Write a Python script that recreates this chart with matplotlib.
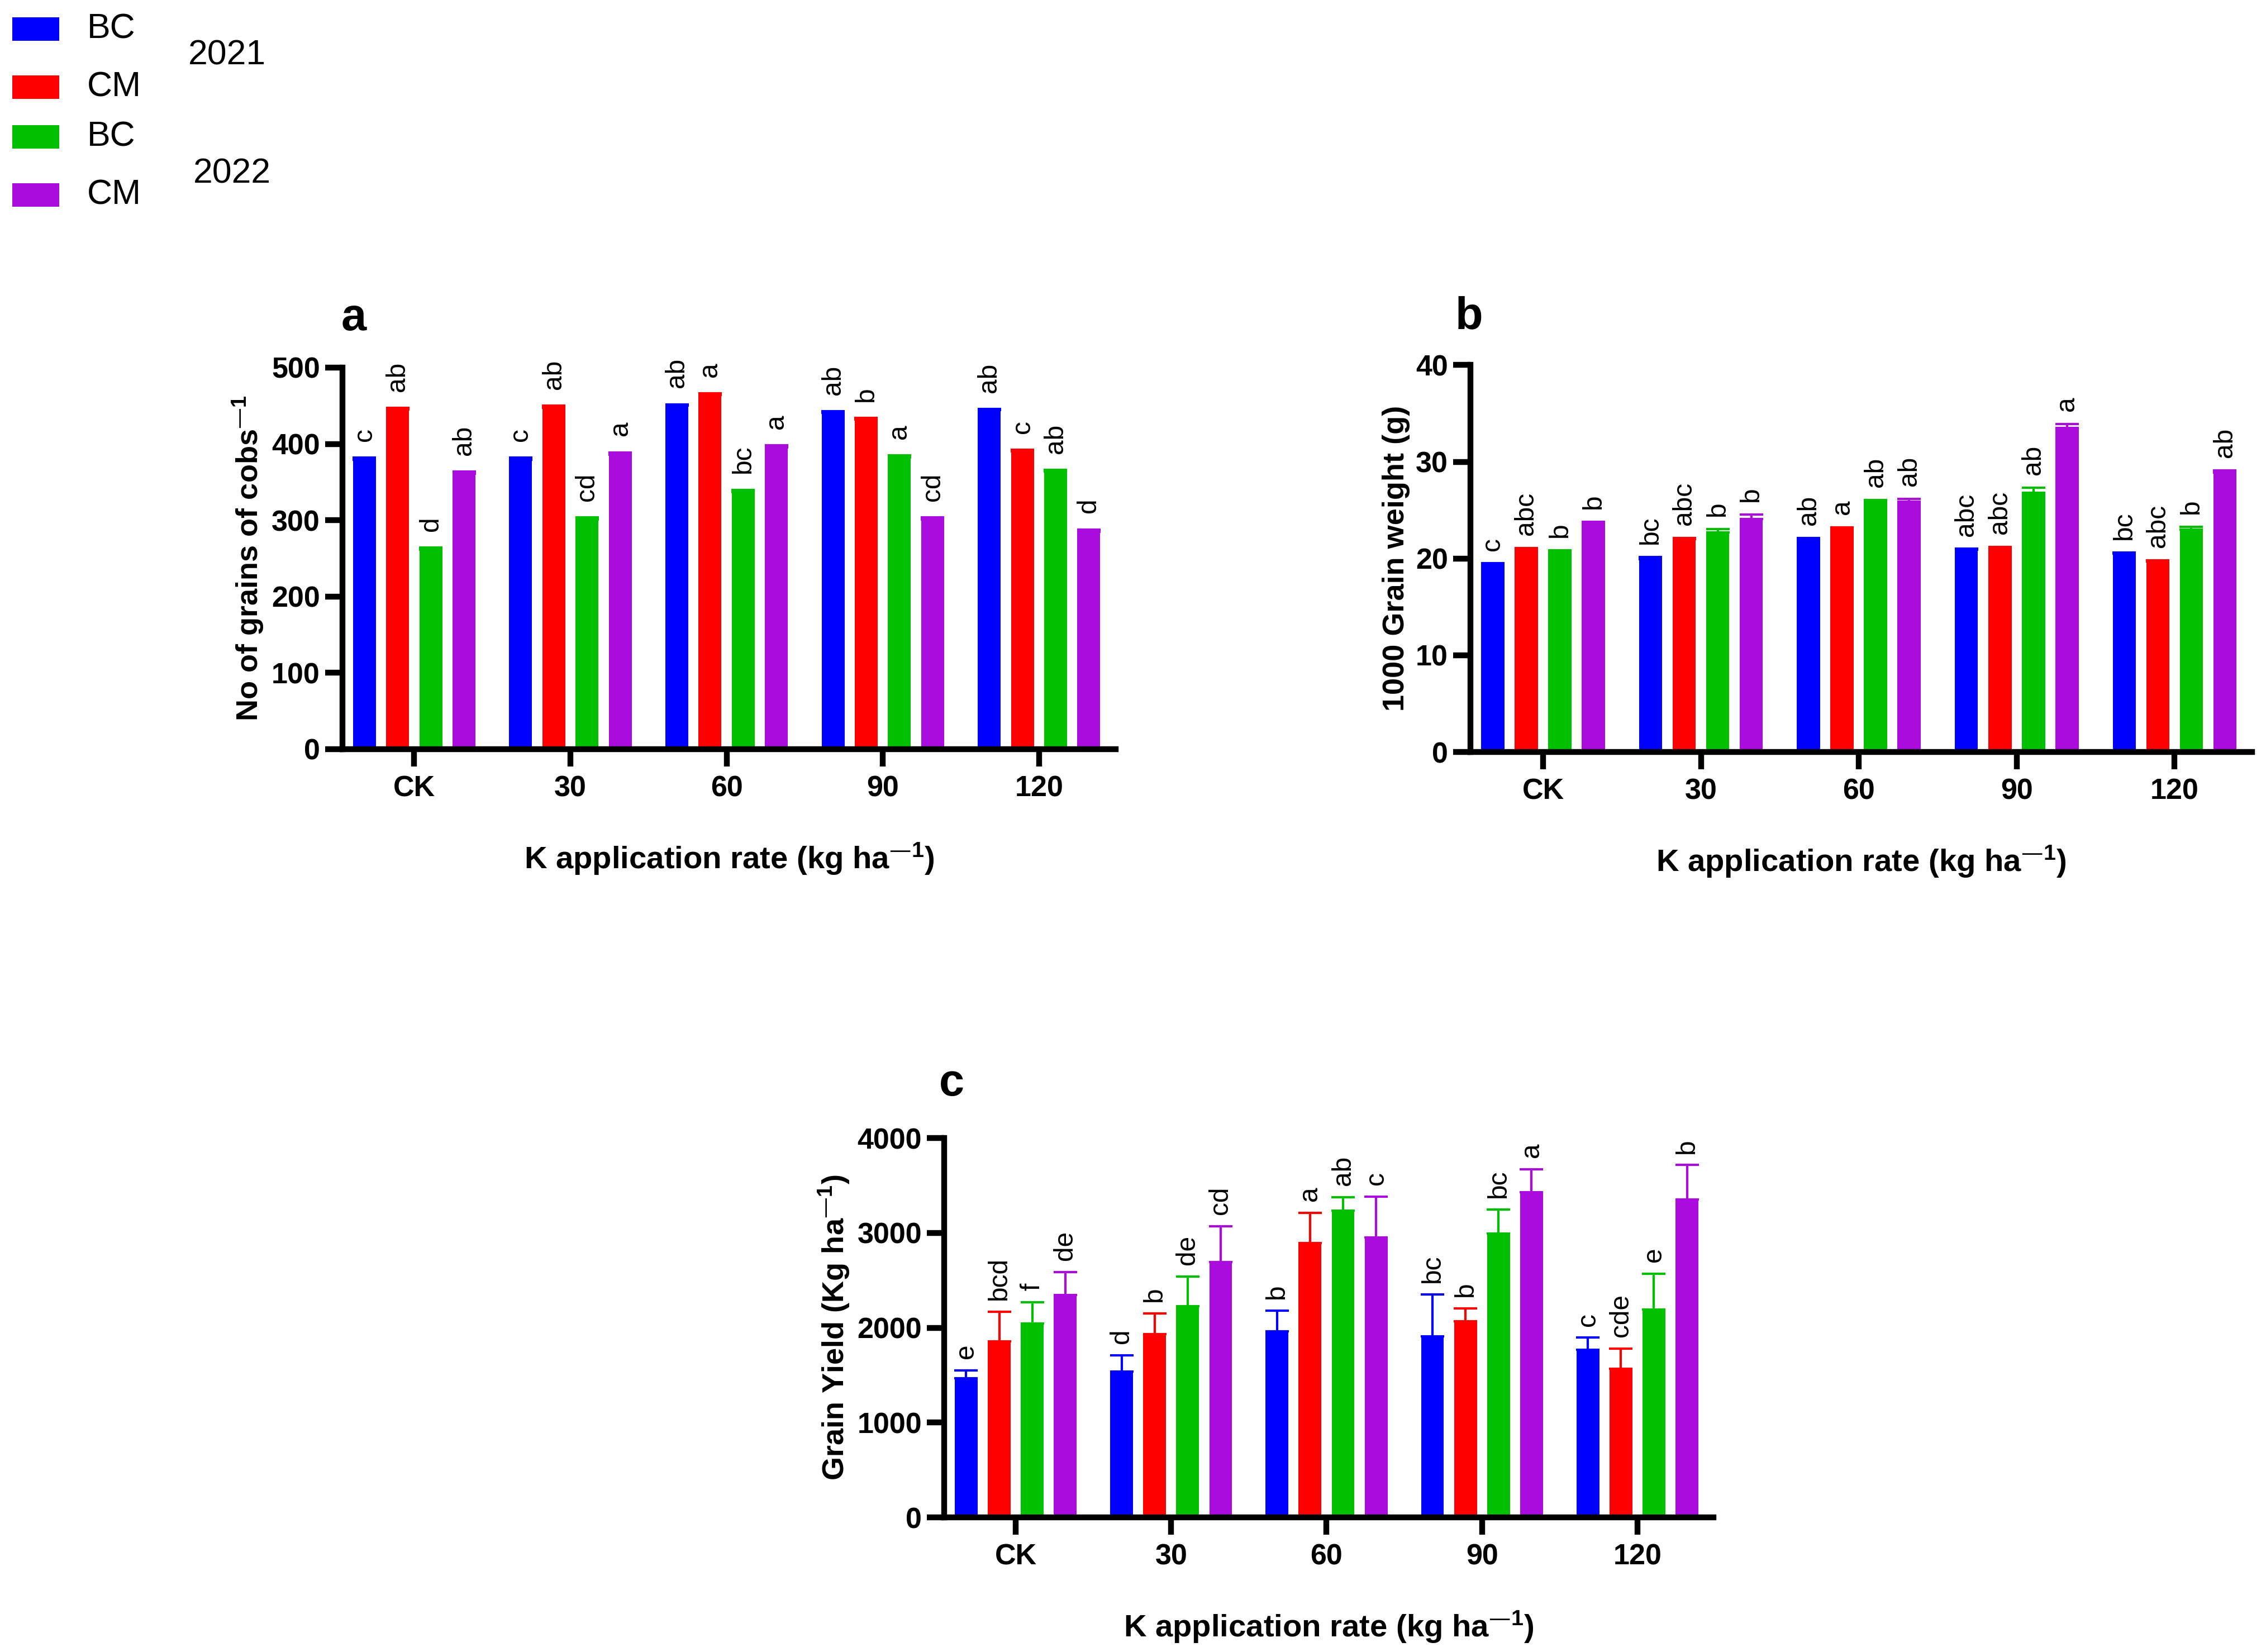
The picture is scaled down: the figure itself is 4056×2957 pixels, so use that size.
import numpy as np
import matplotlib
matplotlib.use('Agg')
import matplotlib.pyplot as plt
from matplotlib.patches import Rectangle

plt.rcParams['font.family'] = ['Liberation Sans', 'DejaVu Sans']
plt.rcParams['mathtext.default'] = 'regular'

# --- colours ---
BLUE = '#0000FF'
RED = '#FF0000'
GREEN = '#00C000'
PURPLE = '#AA0CDE'
COLORS = [BLUE, RED, GREEN, PURPLE]

# --- data ---
groups = ['CK', '30', '60', '90', '120']
legend_labels = ['BC', 'CM', 'BC', 'CM']
years = ['2021', '2022']

# a: number of grains per cob
a_bc21 = [379, 379, 450, 441, 444]
a_cm21 = [445, 447, 464, 432, 390]
a_bc22 = [261, 301, 337, 382, 364]
a_cm22 = [361, 386, 395, 301, 285]
a_err = [[3, 3, 2, 2, 2], [2, 3, 2, 2, 2], [3, 3, 3, 3, 2], [3, 3, 3, 3, 3]]
a_let = [['c', 'c', 'ab', 'ab', 'ab'],
         ['ab', 'ab', 'a', 'b', 'c'],
         ['d', 'cd', 'bc', 'a', 'ab'],
         ['ab', 'a', 'a', 'cd', 'd']]

# b: 1000 grain weight
b_bc21 = [19.3, 19.9, 22.0, 20.9, 20.5]
b_cm21 = [20.9, 22.0, 23.1, 21.1, 19.7]
b_bc22 = [20.7, 22.7, 25.8, 26.8, 23.0]
b_cm22 = [23.6, 24.1, 25.9, 33.5, 28.9]
b_err = [[0.2, 0.25, 0.1, 0.1, 0.1], [0.2, 0.1, 0.1, 0.1, 0.1],
         [0.15, 0.35, 0.25, 0.5, 0.3], [0.2, 0.45, 0.25, 0.4, 0.2]]
b_let = [['c', 'bc', 'ab', 'abc', 'bc'],
         ['abc', 'abc', 'a', 'abc', 'abc'],
         ['b', 'b', 'ab', 'ab', 'b'],
         ['b', 'b', 'ab', 'a', 'ab']]

# c: grain yield
c_bc21 = [1465, 1540, 1960, 1910, 1770]
c_cm21 = [1855, 1935, 2890, 2070, 1565]
c_bc22 = [2045, 2225, 3235, 2995, 2190]
c_cm22 = [2345, 2690, 2950, 3430, 3355]
c_err = [[85, 170, 220, 440, 125], [315, 215, 320, 135, 215],
         [225, 315, 140, 250, 380], [240, 380, 430, 240, 360]]
c_let = [['e', 'd', 'b', 'bc', 'c'],
         ['bcd', 'b', 'a', 'b', 'cde'],
         ['f', 'de', 'ab', 'bc', 'e'],
         ['de', 'cd', 'c', 'a', 'b']]

XLABEL = 'K application rate (kg ha$^{—1}$)'

fig = plt.figure(figsize=(4056 / 300, 2957 / 300), dpi=300)


def draw_panel(rect, series, errs, letters, ylim, ystep, ylabel, off):
    ax = fig.add_axes(rect)
    x = np.arange(len(groups))
    step, width = 0.2125, 0.147
    for j, (vals, err, let, col) in enumerate(zip(series, errs, letters, COLORS)):
        xs = x + (j - 1.5) * step
        ax.bar(xs, vals, width=width, color=col, edgecolor='none', zorder=2)
        ax.errorbar(xs, vals, yerr=[np.zeros(len(vals)), err], fmt='none',
                    ecolor=col, elinewidth=1.0, capsize=5, capthick=1.0, zorder=3)
        for xi, v, e, t in zip(xs, vals, err, let):
            ax.annotate(t, xy=(xi, v + e), xytext=(0, off), textcoords='offset points',
                        rotation=90, ha='center', va='bottom', fontsize=11.5)
    ax.set_xlim(-0.46, 4.49)
    ax.set_ylim(*ylim)
    ax.set_yticks(np.arange(ylim[0], ylim[1] + ystep / 2, ystep))
    ax.set_xticks(x)
    ax.set_xticklabels(groups)
    for s in ['top', 'right']:
        ax.spines[s].set_visible(False)
    for s in ['left', 'bottom']:
        ax.spines[s].set_linewidth(2.5)
    ax.tick_params(axis='both', width=2.5, length=7.4, labelsize=12.5)
    ax.tick_params(axis='x', pad=3.8)
    ax.tick_params(axis='y', pad=2.2)
    for lb in ax.get_xticklabels() + ax.get_yticklabels():
        lb.set_fontweight('bold')
    ax.set_ylabel(ylabel, fontsize=13, fontweight='bold', labelpad=2.4)
    ax.set_xlabel(XLABEL, fontsize=13.5, fontweight='bold', labelpad=16.5)
    return ax


draw_panel([0.1511, 0.5465, 0.3412, 0.2310], [a_bc21, a_cm21, a_bc22, a_cm22], a_err, a_let,
           (0, 500), 100, 'No of grains of cobs$^{—1}$', 7)
draw_panel([0.6489, 0.5448, 0.3449, 0.2342], [b_bc21, b_cm21, b_bc22, b_cm22], b_err, b_let,
           (0, 40), 10, '1000 Grain weight (g)', 5.5)
draw_panel([0.4167, 0.0815, 0.3395, 0.2296], [c_bc21, c_cm21, c_bc22, c_cm22], c_err, c_let,
           (0, 4000), 1000, 'Grain Yield (Kg ha$^{—1}$)', 5)

# panel letters
fig.text(0.1506, 0.8001, 'a', fontsize=19.5, fontweight='bold', va='baseline')
fig.text(0.6423, 0.8011, 'b', fontsize=19.5, fontweight='bold', va='baseline')
fig.text(0.4144, 0.3368, 'c', fontsize=19.5, fontweight='bold', va='baseline')

# legend (top-left)
box_bottoms = [0.9753, 0.9401, 0.9100, 0.8749]
box_h = 0.0142
for col, lab, yb in zip(COLORS, legend_labels, box_bottoms):
    fig.add_artist(Rectangle((0.0054, yb), 0.0207, box_h, transform=fig.transFigure,
                             facecolor=col, edgecolor='none'))
    fig.text(0.0385, yb + box_h / 2, lab, fontsize=15, va='center')
fig.text(0.0831, 0.9665, years[0], fontsize=15, va='center')
fig.text(0.0853, 0.8948, years[1], fontsize=15, va='center')

fig.savefig('out.png', dpi=300, facecolor='white')
